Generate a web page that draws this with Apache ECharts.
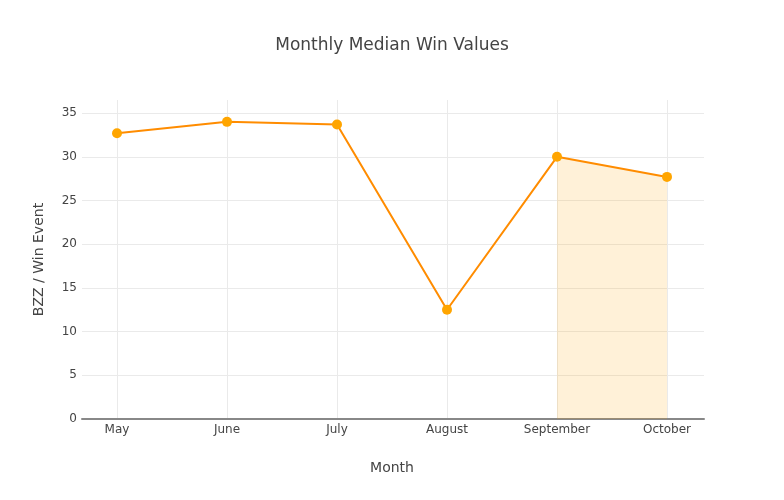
<!DOCTYPE html>
<html>
<head>
<meta charset="utf-8">
<script src="https://cdn.jsdelivr.net/npm/echarts@6/dist/echarts.min.js"></script>
<style>html,body{margin:0;padding:0;background:#fff;}#c{width:784px;height:500px;}</style>
</head>
<body>
<div id="c"></div>
<script>
var months = ['May', 'June', 'July', 'August', 'September', 'October'];
var medianValues = [32.7, 34.0, 33.7, 12.5, 30.0, 27.7];
var highlightValues = [null, null, null, null, 30.0, 27.7];
var yTicks = [0, 5, 10, 15, 20, 25, 30, 35];

var font = 'DejaVu Sans, Verdana, sans-serif';
var chart = echarts.init(document.getElementById('c'));
chart.setOption({
  backgroundColor: '#fff',
  animation: false,
  title: {
    text: 'Monthly Median Win Values',
    left: 'center',
    top: 32,
    textStyle: {fontFamily: font, fontSize: 17, fontWeight: 'normal', color: '#444'}
  },
  grid: [
    {left: 82, right: 80, top: 100, bottom: 81},
    {left: 117, right: 117, top: 100, bottom: 81}
  ],
  xAxis: [
    {
      gridIndex: 0, type: 'value', min: 0, max: 1,
      axisLine: {show: true, onZero: false, lineStyle: {color: '#888', width: 2}},
      axisTick: {show: false}, axisLabel: {show: false}, splitLine: {show: false}
    },
    {
      gridIndex: 1, type: 'category', data: months, boundaryGap: false,
      axisLine: {show: false}, axisTick: {show: false},
      axisLabel: {fontFamily: font, fontSize: 12, color: '#444', margin: 5},
      splitLine: {show: true, lineStyle: {color: '#eaeaea', width: 1}},
      name: 'Month', nameLocation: 'middle', nameGap: 42,
      nameTextStyle: {fontFamily: font, fontSize: 14, color: '#444'}
    }
  ],
  yAxis: [
    {
      gridIndex: 0, type: 'value', min: yTicks[0], max: 36.5, interval: 5,
      axisLine: {show: false}, axisTick: {show: false},
      axisLabel: {fontFamily: font, fontSize: 12, color: '#444', margin: 5, showMaxLabel: false,
        formatter: function (v) { return yTicks.indexOf(v) >= 0 ? String(v) : ''; }},
      splitLine: {show: true, showMaxLine: false, showMinLine: false, lineStyle: {color: '#eaeaea', width: 1}},
      name: 'BZZ / Win Event', nameLocation: 'middle', nameGap: 36,
      nameTextStyle: {fontFamily: font, fontSize: 14, color: '#444'}
    },
    {
      gridIndex: 1, type: 'value', min: 0, max: 36.5, show: false
    }
  ],
  series: [
    {
      type: 'line', xAxisIndex: 1, yAxisIndex: 1,
      data: highlightValues, showSymbol: false, symbol: 'none',
      lineStyle: {width: 0, opacity: 0},
      areaStyle: {color: 'rgba(255,165,0,0.22)', origin: 'start'},
      silent: true, z: 1
    },
    {
      type: 'line', xAxisIndex: 1, yAxisIndex: 1,
      data: medianValues, symbol: 'circle', symbolSize: 10,
      lineStyle: {color: '#ff8c00', width: 2},
      itemStyle: {color: '#ffa500', borderWidth: 0},
      z: 3
    }
  ]
});
</script>
</body>
</html>
